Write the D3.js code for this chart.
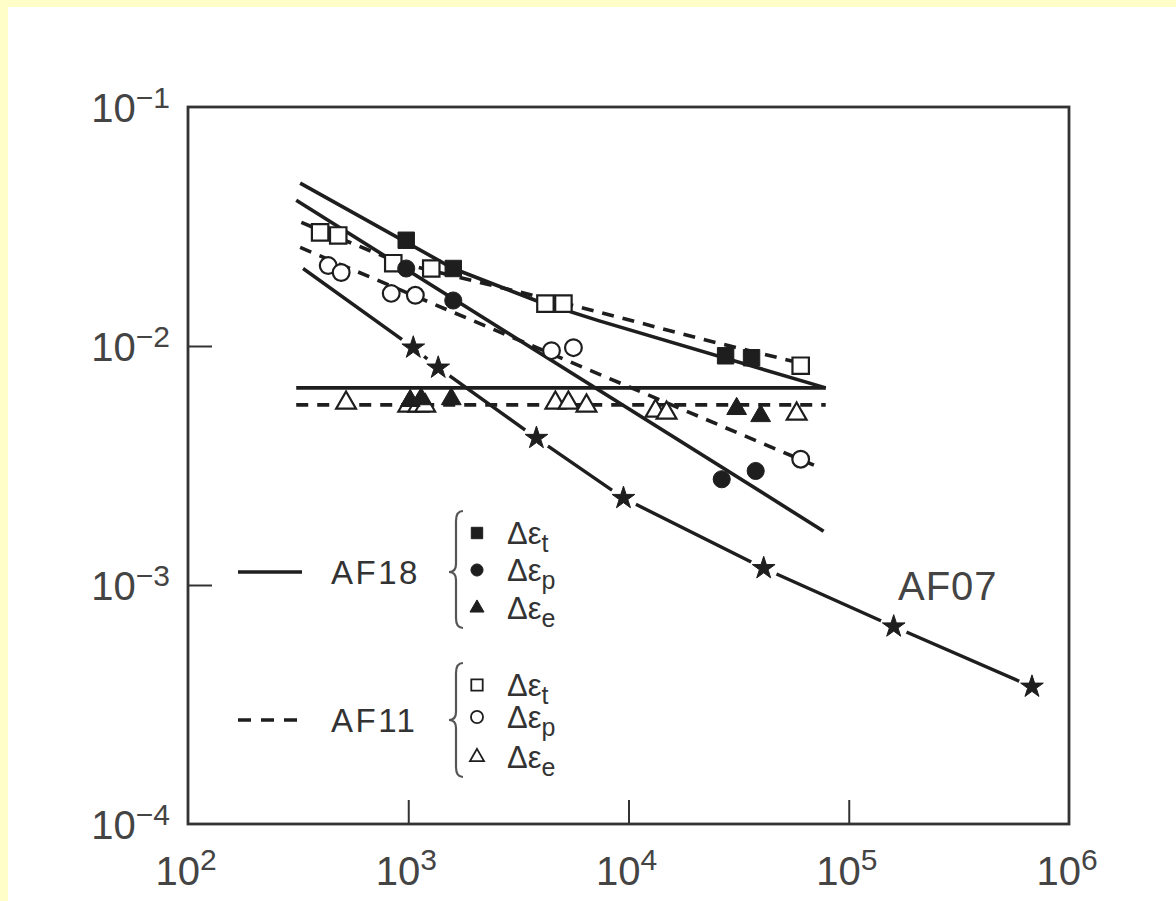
<!DOCTYPE html>
<html>
<head>
<meta charset="utf-8">
<script src="https://cdn.jsdelivr.net/npm/d3@7"></script>
<style>
  html, body { margin: 0; padding: 0; background: #fffdc8; }
  svg { display: block; }
  text { font-family: "Liberation Sans", Arial, sans-serif; }
</style>
</head>
<body>
<svg id="chart" width="1176" height="901"></svg>
<script>
// ---------- data (N = cycles to failure, value = strain range) ----------
const xTicks = [1e2, 1e3, 1e4, 1e5, 1e6];
const xTickExp = ["2", "3", "4", "5", "6"];
const yTicks = [1e-1, 1e-2, 1e-3, 1e-4];
const yTickExp = ["\u22121", "\u22122", "\u22123", "\u22124"];

// AF18 measured points
const af18Total   = [[979, 0.0277], [1601, 0.0211], [27600, 0.0091], [36200, 0.00893]];
const af18Plastic = [[979, 0.0211], [1601, 0.0155], [26500, 0.00277], [37800, 0.0030]];
const af18Elastic = [[1021, 0.0059], [1144, 0.0060], [1568, 0.0060], [30970, 0.00546], [39800, 0.0051]];
// AF11 measured points
const af11Total   = [[398, 0.0299], [481, 0.0290], [855, 0.0222], [1272, 0.0211], [4196, 0.01505], [5064, 0.01505], [60500, 0.00827]];
const af11Plastic = [[433, 0.0217], [496, 0.0203], [837, 0.0166], [1077, 0.0163], [4470, 0.00956], [5623, 0.00984], [60500, 0.00336]];
const af11Elastic = [[522, 0.00578], [1000, 0.00562], [1110, 0.00562], [1194, 0.00562], [4657, 0.00578], [5336, 0.00578], [6444, 0.00562], [13270, 0.00535], [14890, 0.00525], [58000, 0.0052]];
// AF07 points
const af07Points  = [[1054, 0.00984], [1368, 0.00811], [3819, 0.00412], [9488, 0.00231], [41100, 0.001175], [160000, 0.00067], [679000, 0.000375]];

// fitted curves
const af18TotalFit   = [[323, 0.048], [1601, 0.0211], [3899, 0.01535], [7305, 0.01277], [78600, 0.00668]];
const af18PlasticFit = [[310, 0.0407], [76900, 0.00168]];
const af18ElasticFit = [[310, 0.00668], [78600, 0.00668]];
const af11TotalFit   = [[327, 0.0329], [901, 0.02237], [4609, 0.01549], [23100, 0.01052], [59250, 0.00851]];
const af11PlasticFit = [[323, 0.02585], [73050, 0.00311]];
const af11ElasticFit = [[310, 0.00567], [78600, 0.00567]];
const af07Fit        = [[333, 0.0211]].concat(af07Points);

// legend entries
const legendGroups = ["AF18", "AF11"];
const legendSubs = ["t", "p", "e"];
const curveLabel = "AF07";

// ---------- drawing ----------
const svg = d3.select("#chart");
const ink = "#1e1e1e";

svg.append("rect").attr("x", 8).attr("y", 7).attr("width", 1168).attr("height", 894).attr("fill", "#ffffff");

const x = d3.scaleLog().domain([1e2, 1e6]).range([188, 1069]);
const y = d3.scaleLog().domain([1e-4, 1e-1]).range([824, 107]);

// frame
svg.append("rect")
  .attr("x", x(1e2)).attr("y", y(1e-1))
  .attr("width", x(1e6) - x(1e2)).attr("height", y(1e-4) - y(1e-1))
  .attr("fill", "none").attr("stroke", "#333").attr("stroke-width", 2.8);

// inner ticks via d3 axes
const xAxis = d3.axisTop(x).tickValues(xTicks.slice(1, -1)).tickSize(24).tickFormat("");
const gx = svg.append("g").attr("transform", `translate(0,${y(1e-4)})`).call(xAxis);
gx.select(".domain").remove();
gx.selectAll("line").attr("stroke", "#333").attr("stroke-width", 2);

const yAxis = d3.axisRight(y).tickValues(yTicks.slice(1, -1)).tickSize(24).tickFormat("");
const gy = svg.append("g").attr("transform", `translate(${x(1e2)},0)`).call(yAxis);
gy.select(".domain").remove();
gy.selectAll("line").attr("stroke", "#333").attr("stroke-width", 2);

// tick labels
xTicks.forEach((t, i) => {
  const tx = svg.append("text").attr("x", x(t) - 2).attr("y", 885)
    .attr("text-anchor", "middle").attr("fill", "#444").attr("font-size", 40);
  tx.append("tspan").text("10");
  tx.append("tspan").attr("dy", -15).attr("font-size", 30).text(xTickExp[i]);
});
yTicks.forEach((t, i) => {
  const ty = svg.append("text").attr("x", 170).attr("y", y(t) + 15)
    .attr("text-anchor", "end").attr("fill", "#444").attr("font-size", 40);
  ty.append("tspan").text("10");
  ty.append("tspan").attr("dy", -14).attr("font-size", 30).text(yTickExp[i]);
});

const line = d3.line().x(d => x(d[0])).y(d => y(d[1]));

// AF07 curve with gaps around stars
svg.append("path").datum(af07Fit).attr("d", line)
  .attr("fill", "none").attr("stroke", ink).attr("stroke-width", 3.4);
svg.append("g").selectAll("circle").data(af07Points).join("circle")
  .attr("cx", d => x(d[0])).attr("cy", d => y(d[1])).attr("r", 14).attr("fill", "#fff");

// fitted curves
const solid = [af18TotalFit, af18PlasticFit, af18ElasticFit];
const dashed = [af11TotalFit, af11PlasticFit, af11ElasticFit];
solid.forEach(f => svg.append("path").datum(f).attr("d", line)
  .attr("fill", "none").attr("stroke", ink).attr("stroke-width", 3.6));
dashed.forEach(f => svg.append("path").datum(f).attr("d", line)
  .attr("fill", "none").attr("stroke", ink).attr("stroke-width", 3.6).attr("stroke-dasharray", "12,9"));

// markers
function drawMarkers(data, type, size, filled) {
  svg.append("g").selectAll("path").data(data).join("path")
    .attr("transform", d => `translate(${x(d[0])},${y(d[1])})`)
    .attr("d", d3.symbol().type(type).size(size))
    .attr("fill", filled ? ink : "#fff")
    .attr("stroke", ink).attr("stroke-width", filled ? 1 : 2.2);
}
drawMarkers(af11Elastic, d3.symbolTriangle, 170, false);
drawMarkers(af11Plastic, d3.symbolCircle, 220, false);
drawMarkers(af11Total, d3.symbolSquare, 270, false);
drawMarkers(af18Elastic, d3.symbolTriangle, 170, true);
drawMarkers(af18Plastic, d3.symbolCircle, 230, true);
drawMarkers(af18Total, d3.symbolSquare, 270, true);
drawMarkers(af07Points, d3.symbolStar, 160, true);

// AF07 label
svg.append("text").attr("x", 898).attr("y", 600).attr("font-size", 40)
  .attr("fill", "#444").attr("letter-spacing", 1).text(curveLabel);

// legend
const legendY = [572, 720];
const rowY = [[533, 570, 608], [685, 717, 757]];
const legendTypes = [d3.symbolSquare, d3.symbolCircle, d3.symbolTriangle];
const legendSizes = [130, 115, 85];
legendGroups.forEach((g, gi) => {
  const ly = legendY[gi];
  const ln = svg.append("line").attr("x1", 238).attr("x2", 302).attr("y1", ly).attr("y2", ly)
    .attr("stroke", ink).attr("stroke-width", 3.6);
  if (gi === 1) ln.attr("stroke-dasharray", "13,10");
  svg.append("text").attr("x", 331).attr("y", ly + 12).attr("font-size", 33)
    .attr("letter-spacing", 2.5).attr("fill", "#333").text(g);
  // brace
  const bx = 456, top = rowY[gi][0] - 22, bot = rowY[gi][2] + 20, mid = ly;
  svg.append("path")
    .attr("d", `M${bx + 7},${top} Q${bx},${top} ${bx},${top + 10} L${bx},${mid - 8} Q${bx},${mid} ${bx - 7},${mid} Q${bx},${mid} ${bx},${mid + 8} L${bx},${bot - 10} Q${bx},${bot} ${bx + 7},${bot}`)
    .attr("fill", "none").attr("stroke", "#555").attr("stroke-width", 2.2);
  legendSubs.forEach((s, si) => {
    const ry = rowY[gi][si];
    svg.append("path").attr("transform", `translate(477,${ry})`)
      .attr("d", d3.symbol().type(legendTypes[si]).size(legendSizes[si]))
      .attr("fill", gi === 0 ? ink : "#fff").attr("stroke", ink).attr("stroke-width", gi === 0 ? 1 : 1.8);
    const t = svg.append("text").attr("x", 507).attr("y", ry + 11).attr("font-size", 31).attr("fill", "#333");
    t.append("tspan").text("\u0394\u03b5");
    t.append("tspan").attr("dy", 8).attr("font-size", 25).text(s);
  });
});
</script>
</body>
</html>
